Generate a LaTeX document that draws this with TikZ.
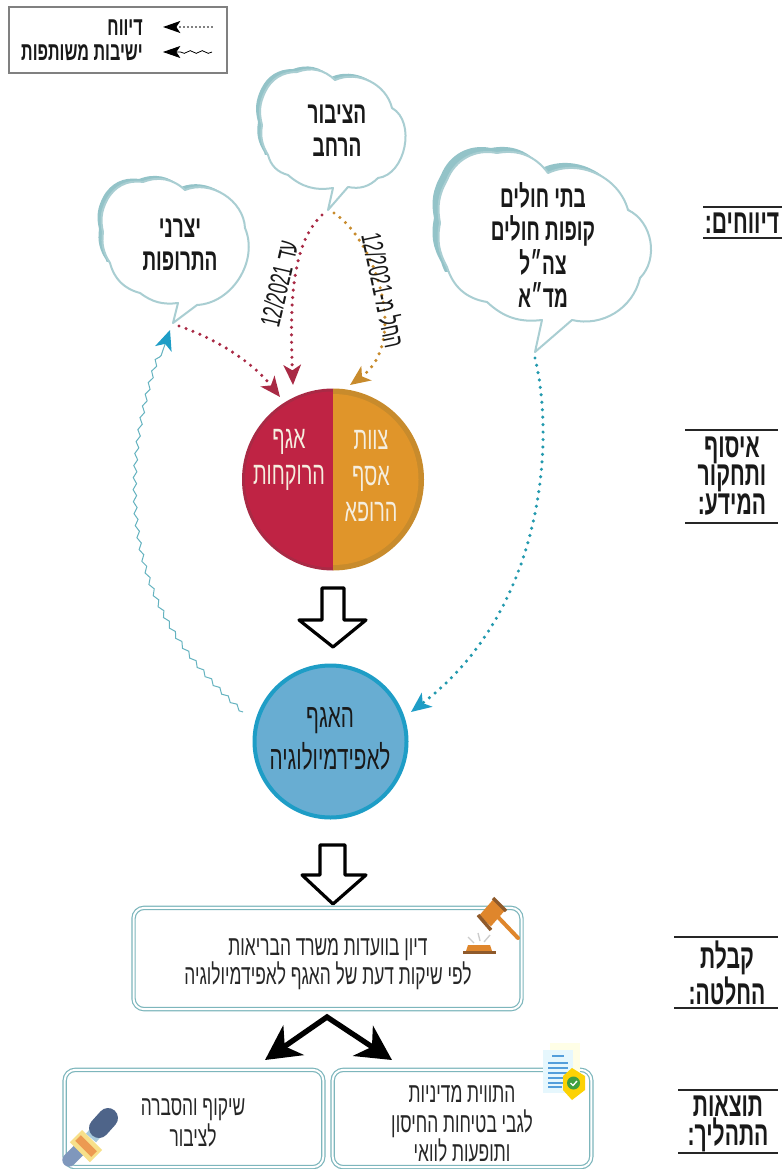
\documentclass[tikz,border=0pt]{standalone}
\usepackage{fontspec}
\usetikzlibrary{arrows.meta,decorations.pathmorphing,shapes.geometric,calc}
\TeXXeTstate=1
\newfontfamily\hb[Script=Hebrew,FakeStretch=.62]{Liberation Sans}
\newcommand{\rl}[1]{\beginR #1\endR}
\definecolor{cloudline}{HTML}{A9CED2}
\definecolor{cloudshade}{HTML}{93C3C8}
\definecolor{boxline}{HTML}{7DB6BC}
\definecolor{redc}{HTML}{BF2344}
\definecolor{redd}{HTML}{A92A45}
\definecolor{orc}{HTML}{E0952A}
\definecolor{ord}{HTML}{C88B2C}
\definecolor{bluef}{HTML}{68ADD2}
\definecolor{blueb}{HTML}{1E9DC6}
\definecolor{tealdot}{HTML}{2299AE}
\definecolor{cream}{HTML}{F5EEDF}
\definecolor{gavelb}{HTML}{8F5A2B}
\definecolor{gavelo}{HTML}{DF862C}
\definecolor{micd}{HTML}{4E6489}
\definecolor{mich}{HTML}{7F97BC}
\definecolor{micn}{HTML}{A9CBDD}
\definecolor{micy}{HTML}{F7E08A}
\definecolor{mico}{HTML}{EC9A52}
\tikzset{
  x=0.75pt,y=-0.75pt,
  cloudA/.style={insert path={(173,323) -- (197,305) to[bend right=55] (245,228) to[bend right=55] (185,190) to[bend right=32] (143,182) to[bend right=35] (107,200) to[bend right=20] (103,232) to[bend right=20] (110,263) to[bend right=30] (140,293) to[bend right=22] (178,303) -- cycle}},
  cloudB/.style={insert path={(328,210) -- (348,187) to[bend right=28] (378,178) to[bend right=72] (392,108) to[bend right=50] (335,80) to[bend right=32] (297,72) to[bend right=32] (265,92) to[bend right=20] (262,125) to[bend right=20] (268,155) to[bend right=30] (288,175) to[bend right=25] (333,188) -- cycle}},
  cloudC/.style={insert path={(535,352) -- (572,320) to[bend right=45] (640,278) to[bend right=55] (628,210) to[bend right=50] (548,173) to[bend right=32] (497,153) to[bend right=40] (447,180) to[bend right=20] (440,223) to[bend right=20] (447,267) to[bend right=32] (487,302) to[bend right=25] (542,320) -- cycle}},
  cloudedge/.style={draw=cloudline,line width=1.5pt,fill=white,line join=round},
  cloudfill/.style={fill=cloudshade},
  heavy/.style={font=\hb\bfseries\fontsize{23}{25}\selectfont,align=center,inner sep=0pt,text=black!90},
  cloudtext/.style={heavy},
  sidelabel/.style={font=\hb\bfseries\fontsize{25.5}{22}\selectfont,align=center,inner sep=0pt,text=black!90},
  ruleline/.style={draw=black!85,line width=1.6pt},
  boxtext/.style={font=\hb\fontsize{21}{22}\selectfont,align=center,inner sep=0pt,text=black!85},
  circletext/.style={font=\hb\fontsize{24}{27}\selectfont,align=center,inner sep=0pt,text=cream},
  dbox/.style={draw=boxline,line width=0.9pt,double=white,double distance=1.5pt,rounded corners=8pt,fill=white,inner sep=0pt},
  dotline/.style={line width=2.6pt,line cap=round,dash pattern=on 0pt off 5.6pt},
  tipmed/.style={-{Stealth[length=15pt,width=13pt,inset=4pt]}},
  hollow/.style={draw=black,fill=white,line width=2.4pt,line join=round},
  bigblack/.style={line width=4pt,black,line join=miter,{Stealth[length=26pt,width=27pt,inset=8pt]}-{Stealth[length=26pt,width=27pt,inset=8pt]}},
  rotlabel/.style={font=\hb\fontsize{21}{24}\selectfont,inner sep=0pt,text=black!90},
  leglabel/.style={font=\hb\bfseries\fontsize{19.5}{20}\selectfont,inner sep=0pt,anchor=east,text=black!90},
}
\begin{document}
\begin{tikzpicture}
\useasboundingbox[fill=white] (0,0) rectangle (784,1169);

% Legend
\node[draw=black!50,line width=1.3pt,minimum width=163pt,minimum height=49.5pt,inner sep=0pt] (legend) at (118,40) {};
\node[leglabel] (legA) at (143,28) {\rl{דיווח}};
\node[leglabel] (legB) at (143,53) {\rl{ישיבות משותפות}};
\coordinate (legA1) at (212,27);
\coordinate (legA2) at (163,27);
\coordinate (legB1) at (212,52);
\coordinate (legB2) at (163,52);
\draw[line width=1.2pt,line cap=round,dash pattern=on 0pt off 3pt,-{Stealth[length=13pt,width=9pt,inset=3pt]}] (legA1) -- (legA2);
\draw[line width=0.6pt,decorate,decoration={snake,amplitude=1pt,segment length=9pt,post length=10pt},-{Stealth[length=13pt,width=9pt,inset=3pt]}] (legB1) -- (legB2);

% Clouds
\begin{scope}
\clip (90,170) rectangle (240,262);
\path[cloudfill,shift={(-4,-3)},cloudA];
\end{scope}
\path[cloudedge,cloudA];
\begin{scope}
\clip (245,55) rectangle (400,155);
\path[cloudfill,shift={(-4,-3)},cloudB];
\end{scope}
\path[cloudedge,cloudB];
\begin{scope}
\clip (425,140) rectangle (640,272);
\path[cloudfill,shift={(-6,-5)},cloudC];
\end{scope}
\path[cloudedge,cloudC];

\node[cloudtext] (makers) at (180,245) {\rl{יצרני}\\\rl{התרופות}};
\node[cloudtext] (public) at (337,131) {\rl{הציבור}\\\rl{הרחב}};
\node[cloudtext] (hosp) at (543,245) {\rl{בתי חולים}\\\rl{קופות חולים}\\\rl{צה״ל}\\\rl{מד״א}};

% Circle 1
\node[circle,minimum size=136.5pt,inner sep=0pt] (pharm) at (333,479.5) {};
\begin{scope}
\clip (242,380) rectangle (333,580);
\fill[redd] (pharm.center) circle (91);
\fill[redc] (pharm.center) circle (88);
\end{scope}
\begin{scope}
\clip (333,380) rectangle (430,580);
\fill[ord] (pharm.center) circle (91);
\fill[orc] (pharm.center) circle (85.5);
\end{scope}
\node[circletext] (teamtext) at (371,476) {\rl{צוות}\\\rl{אסף}\\\rl{הרופא}};
\node[circletext] (pharmtext) at (289,460) {\rl{אגף}\\\rl{הרוקחות}};

% Circle 2
\node[circle,draw=blueb,fill=bluef,line width=3pt,minimum size=114pt,inner sep=0pt] (epi) at (330.5,741.5) {};
\node[font=\hb\fontsize{25}{31}\selectfont,align=center,inner sep=0pt,text=black!90] (epitext) at (330,739) {\rl{האגף}\\\rl{לאפידמיולוגיה}};

% Reports connectors
\coordinate (tipApub) at (322,215);
\coordinate (tipBpub) at (334,213);
\coordinate (tipMak) at (179,326);
\coordinate (tipMakIn) at (170,330);
\coordinate (tipHosp) at (535,358);
\coordinate (inRed) at (293,385);
\coordinate (inOr) at (350,385);
\coordinate (inRedL) at (280,397);
\coordinate (inBlue) at (411,712);
\coordinate (outBlue) at (243,712);

\draw[redd,dotline,tipmed] (tipApub) .. controls (290,245) and (290,310) .. (inRed);
\draw[ord,dotline,tipmed] (tipBpub) .. controls (375,240) and (410,342) .. (inOr);
\draw[redd,dotline,tipmed] (tipMak) .. controls (220,340) and (255,365) .. (inRedL);
\draw[tealdot,dotline,tipmed,-{Stealth[length=15pt,width=13pt,inset=4pt,color=blueb]}] (tipHosp) .. controls (555,440) and (545,610) .. (inBlue);
\draw[color=tealdot!50!cloudline,line width=0.75pt,decorate,decoration={snake,amplitude=1.3pt,segment length=9pt,post length=16pt},-{Stealth[length=15pt,width=13pt,inset=4pt,color=blueb]}] (outBlue) .. controls (180,655) and (137,590) .. (137,490) .. controls (137,430) and (152,380) .. (tipMakIn);

\node[rotlabel,rotate=77] (until) at (279,284) {\rl{עד \beginL 12/2021\endL}};
\node[rotlabel,rotate=-78] (from) at (384,290) {\rl{החל מ-\beginL 12/2021\endL}};

% Hollow arrows
\draw[hollow] (322,588) -- (344,588) -- (344,620) -- (366,620) -- (333,647) -- (299,620) -- (322,620) -- cycle;
\draw[hollow] (320,845) -- (345,845) -- (345,875) -- (366,875) -- (333,904) -- (302,875) -- (320,875) -- cycle;

% Boxes
\node[dbox,minimum width=291pt,minimum height=76pt] (decision) at (327.5,958.5) {};
\node[dbox,minimum width=194pt,minimum height=73pt] (pr) at (194,1118.5) {};
\node[dbox,minimum width=194pt,minimum height=73pt] (policy) at (462,1118.5) {};
\node[boxtext] (dectext) at (328,964) {\rl{דיון בוועדות משרד הבריאות}\\\rl{לפי שיקות דעת של האגף לאפידמיולוגיה}};
\node[boxtext,font=\hb\fontsize{21}{23}\selectfont] (prtext) at (193,1123) {\rl{שיקוף והסברה}\\\rl{לציבור}};
\node[boxtext] (poltext) at (462,1124) {\rl{התווית מדיניות}\\\rl{לגבי בטיחות החיסון}\\\rl{ותופעות לוואי}};

% Black split arrow
\coordinate (peak) at (327,1017);
\coordinate (leftend) at (265,1060);
\coordinate (rightend) at (392,1060);
\draw[bigblack] (leftend) -- (peak) -- (rightend);

% Gavel icon
\draw[line width=3pt,color=gavelo,line cap=round] (498,917) -- (518,938);
\draw[line width=12pt,color=gavelo] (485,921) -- (499,905);
\draw[line width=2.6pt,color=gavelb] (478,915) -- (491,930);
\draw[line width=2.6pt,color=gavelb] (493,898) -- (506,911);
\draw[line width=1pt,color=black!20] (478,933) -- (480,941);
\draw[line width=1pt,color=black!20] (468,937) -- (474,943);
\draw[line width=1pt,color=black!20] (490,935) -- (484,942);
\fill[gavelo] (468,945) -- (490,945) -- (492,951) -- (466,951) -- cycle;
\draw[line width=2.2pt,color=gavelb] (463,952.5) -- (496,952.5);

% Document icon
\fill[yellow!10!white] (550,1043) rectangle (580,1078);
\fill[cyan!10!white] (543,1050) rectangle (573,1093);
\foreach \yy/\xa/\xb in {1056/552/564,1063/548/568,1068/548/568,1073/548/568,1078/548/568,1083/548/568,1087/548/562}
  \draw[line width=1.1pt,color=cyan!65!blue!70!white] (\xa,\yy) -- (\xb,\yy);
\fill[yellow!70!orange] (572,1068) -- (585,1076) -- (585,1090) -- (572,1100) -- (563,1090) -- (563,1076) -- cycle;
\fill[green!50!black!75!white] (573.5,1083) circle (6.5);
\draw[white,line width=1pt] (570.5,1083) -- (573,1085.5) -- (577,1081);

% Microphone icon
\draw[line width=10pt,color=mich,line cap=round] (69,1160) -- (82,1147);
\draw[line width=13pt,color=micy] (76,1136) -- (96,1156);
\draw[line width=6pt,color=mico] (78,1138) -- (94,1154);
\draw[line width=10pt,color=micn] (91,1138) -- (97,1131);
\draw[line width=15pt,color=micd,line cap=round] (99,1128) -- (108,1118);

% Side labels
\node[sidelabel] (s1) at (742,223) {\rl{דיווחים:}};
\draw[ruleline] (703,207) -- (782,207) (703,238) -- (782,238);
\node[sidelabel,font=\hb\bfseries\fontsize{25.5}{21.6}\selectfont] (s2) at (732,476) {\rl{איסוף}\\\rl{ותחקור}\\\rl{המידע:}};
\draw[ruleline] (685,430) -- (778,430) (685,523) -- (778,523);
\node[sidelabel,font=\hb\bfseries\fontsize{25.5}{27}\selectfont] (s3) at (727,973) {\rl{קבלת}\\\rl{החלטה:}};
\draw[ruleline] (674,937) -- (778,937) (674,1008) -- (778,1008);
\node[sidelabel,font=\hb\bfseries\fontsize{25.5}{22}\selectfont] (s4) at (728,1124) {\rl{תוצאות}\\\rl{התהליך:}};
\draw[ruleline] (678,1090) -- (778,1090) (678,1153) -- (778,1153);
\end{tikzpicture}
\end{document}
